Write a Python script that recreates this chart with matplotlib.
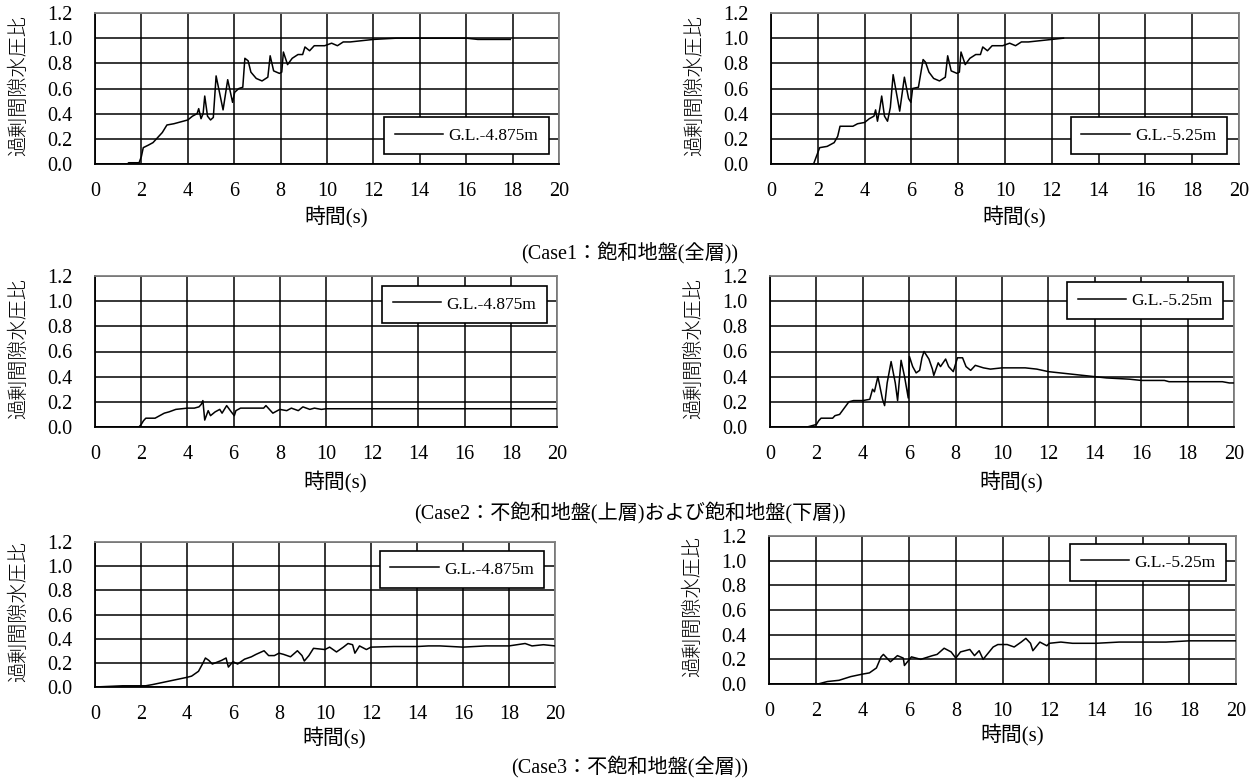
import matplotlib
matplotlib.use("Agg")
import matplotlib.pyplot as plt

plt.rcParams['font.family'] = ['Liberation Serif', 'Noto Sans CJK JP']

# Case1: 飽和地盤(全層)
c1_a_t = [0, 1.4, 1.45, 1.9, 2.0, 2.08, 2.3, 2.5, 2.7, 2.9, 3.1, 3.4, 3.8, 4.0, 4.2, 4.4,
          4.47, 4.57, 4.66, 4.73, 4.85, 4.98, 5.1, 5.22, 5.52, 5.72, 5.93, 6.02, 6.2, 6.37,
          6.46, 6.6, 6.72, 6.95, 7.2, 7.45, 7.55, 7.7, 7.95, 8.05, 8.12, 8.3, 8.5, 8.75,
          8.95, 9.05, 9.25, 9.45, 9.9, 10.2, 10.45, 10.7, 11.0, 11.5, 12.0, 13.0, 16.0,
          16.5, 17.9]
c1_a_v = [0, 0, 0.01, 0.01, 0.06, 0.13, 0.15, 0.17, 0.21, 0.25, 0.31, 0.32, 0.34, 0.35,
          0.38, 0.40, 0.44, 0.36, 0.40, 0.54, 0.38, 0.35, 0.37, 0.70, 0.43, 0.67, 0.49,
          0.57, 0.60, 0.61, 0.84, 0.82, 0.73, 0.68, 0.66, 0.69, 0.86, 0.74, 0.72, 0.73,
          0.89, 0.79, 0.84, 0.87, 0.87, 0.93, 0.90, 0.94, 0.94, 0.96, 0.94, 0.97, 0.97,
          0.98, 0.99, 1.0, 1.0, 0.99, 0.99]

c1_b_t = [0, 1.82, 2.08, 2.4, 2.7, 2.85, 2.95, 3.5, 3.7, 4.0, 4.2, 4.4, 4.47, 4.55, 4.65,
          4.73, 4.85, 4.98, 5.1, 5.22, 5.5, 5.7, 5.88, 5.98, 6.05, 6.3, 6.5, 6.6, 6.75,
          6.95, 7.2, 7.45, 7.55, 7.7, 7.95, 8.05, 8.12, 8.3, 8.5, 8.75, 8.95, 9.05, 9.25,
          9.45, 9.9, 10.2, 10.45, 10.7, 11.0, 11.5, 12.0, 12.5]
c1_b_v = [0, 0, 0.13, 0.14, 0.17, 0.22, 0.30, 0.30, 0.32, 0.33, 0.36, 0.38, 0.43, 0.34,
          0.44, 0.54, 0.38, 0.34, 0.45, 0.71, 0.42, 0.69, 0.52, 0.49, 0.60, 0.61, 0.83,
          0.81, 0.73, 0.68, 0.66, 0.69, 0.86, 0.74, 0.72, 0.73, 0.89, 0.79, 0.84, 0.87,
          0.87, 0.93, 0.90, 0.94, 0.94, 0.96, 0.94, 0.97, 0.97, 0.98, 0.99, 1.0]

# Case2: 不飽和地盤(上層)および飽和地盤(下層)
c2_a_t = [0, 1.9, 2.0, 2.1, 2.2, 2.6, 2.8, 3.0, 3.2, 3.5, 4.0, 4.3, 4.5, 4.6, 4.67, 4.75,
          4.9, 5.0, 5.2, 5.4, 5.5, 5.7, 5.9, 6.03, 6.1, 6.3, 7.0, 7.3, 7.4, 7.7, 8.0, 8.3,
          8.5, 8.8, 9.0, 9.3, 9.5, 9.8, 10.0, 20.0]
c2_a_v = [0, 0, 0.02, 0.05, 0.07, 0.07, 0.09, 0.11, 0.12, 0.14, 0.15, 0.15, 0.16, 0.18,
          0.21, 0.055, 0.13, 0.09, 0.12, 0.14, 0.11, 0.17, 0.12, 0.09, 0.13, 0.15, 0.15,
          0.15, 0.17, 0.11, 0.14, 0.13, 0.15, 0.13, 0.16, 0.14, 0.15, 0.14, 0.145, 0.145]

c2_b_t = [0, 1.6, 2.0, 2.1, 2.2, 2.7, 2.8, 3.0, 3.2, 3.4, 3.6, 4.0, 4.3, 4.42, 4.5, 4.65,
          4.85, 4.94, 5.05, 5.22, 5.4, 5.5, 5.65, 5.8, 5.96, 6.01, 6.15, 6.3, 6.45, 6.55,
          6.64, 6.85, 7.0, 7.06, 7.25, 7.35, 7.57, 7.7, 7.9, 8.08, 8.3, 8.45, 8.65, 8.85,
          9.2, 9.5, 10.0, 11.0, 11.5, 12.0, 13.0, 14.0, 14.5, 15.5, 16.0, 17.0, 17.2,
          19.5, 19.8, 20.0]
c2_b_v = [0, 0, 0.02, 0.05, 0.07, 0.07, 0.09, 0.10, 0.15, 0.20, 0.21, 0.21, 0.22, 0.30,
          0.28, 0.40, 0.22, 0.17, 0.35, 0.52, 0.35, 0.21, 0.53, 0.40, 0.23, 0.56, 0.48,
          0.43, 0.45, 0.55, 0.60, 0.54, 0.46, 0.41, 0.51, 0.48, 0.54, 0.48, 0.44, 0.55,
          0.55, 0.48, 0.45, 0.49, 0.47, 0.46, 0.47, 0.47, 0.46, 0.44, 0.42, 0.40, 0.39,
          0.38, 0.37, 0.37, 0.36, 0.36, 0.35, 0.35]

# Case3: 不飽和地盤(全層)
c3_a_t = [0, 1.2, 2.2, 2.5, 3.0, 3.5, 4.0, 4.2, 4.5, 4.7, 4.8, 4.95, 5.1, 5.5, 5.7, 5.75,
          5.8, 6.0, 6.2, 6.5, 6.8, 7.0, 7.35, 7.55, 7.8, 8.0, 8.2, 8.5, 8.8, 9.0, 9.1,
          9.3, 9.5, 10.0, 10.2, 10.5, 10.8, 11.0, 11.2, 11.3, 11.5, 11.8, 12.0, 13.0,
          14.0, 14.5, 15.0, 16.0, 17.0, 18.0, 18.7, 19.0, 19.5, 20.0]
c3_a_v = [0, 0.01, 0.01, 0.02, 0.04, 0.06, 0.08, 0.09, 0.13, 0.20, 0.24, 0.22, 0.19,
          0.22, 0.24, 0.20, 0.165, 0.21, 0.19, 0.23, 0.25, 0.27, 0.30, 0.26, 0.26,
          0.28, 0.27, 0.25, 0.30, 0.26, 0.215, 0.26, 0.32, 0.31, 0.33, 0.29, 0.33, 0.36,
          0.35, 0.28, 0.34, 0.31, 0.33, 0.335, 0.335, 0.34, 0.34, 0.33, 0.34, 0.34,
          0.36, 0.34, 0.35, 0.34]

c3_b_t = [0, 2.1, 2.5, 3.0, 3.5, 4.0, 4.3, 4.6, 4.8, 4.9, 5.2, 5.5, 5.75, 5.8, 6.1, 6.5,
          7.0, 7.2, 7.5, 7.8, 8.0, 8.2, 8.6, 8.8, 9.0, 9.17, 9.6, 9.8, 10.2, 10.5, 10.8,
          11.0, 11.2, 11.3, 11.6, 11.9, 12.0, 12.5, 13.0, 14.0, 15.0, 16.0, 17.0, 18.0,
          19.0, 20.0]
c3_b_v = [0, 0, 0.02, 0.03, 0.06, 0.08, 0.09, 0.13, 0.22, 0.24, 0.18, 0.23, 0.21, 0.15,
          0.22, 0.20, 0.23, 0.24, 0.29, 0.26, 0.21, 0.26, 0.28, 0.23, 0.27, 0.20, 0.30,
          0.32, 0.32, 0.30, 0.34, 0.37, 0.33, 0.27, 0.34, 0.31, 0.33, 0.34, 0.33, 0.33,
          0.34, 0.34, 0.34, 0.35, 0.35, 0.35]

legend_labels = ['G.L.-4.875m', 'G.L.-5.25m']
captions = ['(Case1：飽和地盤(全層))',
            '(Case2：不飽和地盤(上層)および飽和地盤(下層))',
            '(Case3：不飽和地盤(全層))']
x_ticks = list(range(0, 21, 2))
y_ticks = [0.0, 0.2, 0.4, 0.6, 0.8, 1.0, 1.2]

W, H = 1258, 782
fig = plt.figure(figsize=(W / 100, H / 100), dpi=100)


def rect(l, r, t, b):
    return [l / W, 1 - b / H, (r - l) / W, (b - t) / H]


# pixel box (left, right, top, bottom), legend anchor in axes fraction, xlabel drop in px
panels = [
    (c1_a_t, c1_a_v, 0, (95, 559, 13, 164), (0.978, 0.311), 42),
    (c1_b_t, c1_b_v, 1, (771, 1239, 13, 164), (0.974, 0.311), 42),
    (c2_a_t, c2_a_v, 0, (95, 557, 276, 427), (0.978, 0.934), 44),
    (c2_b_t, c2_b_v, 1, (770, 1234, 276, 427), (0.976, 0.960), 44),
    (c3_a_t, c3_a_v, 0, (95, 555, 542, 687), (0.976, 0.938), 40),
    (c3_b_t, c3_b_v, 1, (769, 1236, 536, 684), (0.979, 0.946), 40),
]

for t, v, k, (l, r, tp, bt), anchor, drop in panels:
    ax = fig.add_axes(rect(l, r, tp, bt))
    ax.plot(t, v, color='black', lw=1.1, label=legend_labels[k], zorder=3)
    ax.set_xlim(0, 20)
    ax.set_ylim(0, 1.2)
    ax.set_xticks(x_ticks)
    ax.set_yticks(y_ticks)
    ax.set_yticklabels([f'{y:.1f}' for y in y_ticks])
    ax.grid(True, color='black', lw=1.1)
    ax.set_axisbelow(True)
    ax.tick_params(length=0, labelsize=14.5)
    ax.tick_params(axis='x', pad=13)
    ax.tick_params(axis='y', pad=16)
    for s in ['left', 'bottom']:
        ax.spines[s].set_color('black')
        ax.spines[s].set_linewidth(1.3)
    for s in ['top', 'right']:
        ax.spines[s].set_color('#808080')
        ax.spines[s].set_linewidth(1.3)
    w, h = r - l, bt - tp
    ax.set_xlabel('時間(s)', fontsize=15)
    ax.xaxis.set_label_coords(0.52, -drop / h)
    ax.set_ylabel('過剰間隙水圧比', fontsize=14.5, va='center', fontweight='light')
    ax.yaxis.set_label_coords(-75 / w, 0.52)
    leg = ax.legend(loc='upper right', bbox_to_anchor=anchor, fontsize=12.5,
                    frameon=True, fancybox=False, framealpha=1, edgecolor='black',
                    handlelength=2.8, handletextpad=0.3, borderpad=0.6,
                    borderaxespad=0)
    leg.get_frame().set_linewidth(1.2)
    leg.set_zorder(5)

fig.text(630 / W, 1 - 253 / H, captions[0], ha='center', va='center', fontsize=14.5)
fig.text(630 / W, 1 - 513 / H, captions[1], ha='center', va='center', fontsize=14.5)
fig.text(630 / W, 1 - 767 / H, captions[2], ha='center', va='center', fontsize=14.5)

fig.savefig('out.png', dpi=100)
